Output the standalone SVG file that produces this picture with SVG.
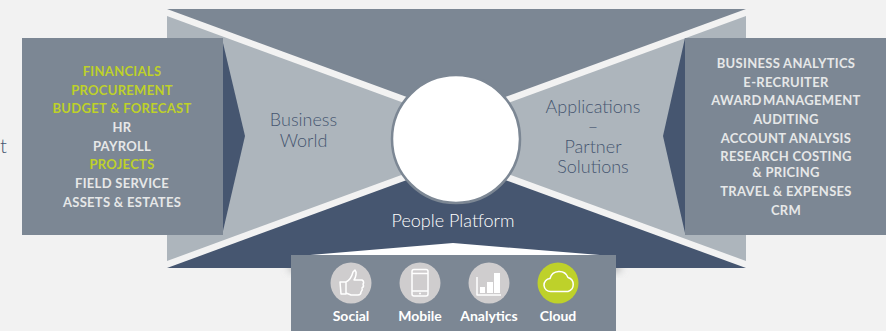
<svg xmlns="http://www.w3.org/2000/svg" width="886" height="331" viewBox="0 0 886 331">
<defs>
<filter id="bl" x="-10%" y="-100%" width="120%" height="300%"><feGaussianBlur stdDeviation="4"/></filter>
<style>
text{font-family:"Lato","Liberation Sans",sans-serif;text-anchor:middle}
.l{font-size:13px;font-weight:700;fill:#e6e7e8;letter-spacing:.3px}
.g{fill:#bed12a}
.m{font-size:18px;font-weight:300;fill:#465670}
.p{font-size:18px;font-weight:300;fill:#fff}
.i{font-size:14px;font-weight:700;fill:#fff}
.c{fill:#cfcdce}
.o{fill:none;stroke:#fff;stroke-width:1.5;stroke-linejoin:round}
</style>
</defs>
<rect width="886" height="331" fill="#f2f2f2"/>
<text x="0" y="153" class="m" style="text-anchor:start;font-size:20px">t</text>
<g id="platform">
<rect x="290" y="264" width="330" height="7" fill="#9a9c9f" filter="url(#bl)"/>
<rect x="167" y="9" width="579" height="259" fill="#f2f2f2"/>
<polygon points="167,9 746,9 456,115" fill="#7c8794"/>
<polygon points="167,268 746,268 456,162" fill="#465670"/>
<polygon points="167,16 456,122 456,155 167,261" fill="#adb5bc"/>
<polygon points="746,16 456,122 456,155 746,261" fill="#adb5bc"/>
</g>
<g id="left-panel">
<polygon points="223,43 245,136 223,231" fill="#465670"/>
<rect x="22" y="38" width="201" height="197" fill="#7c8794"/>
<text x="122" y="76" class="l g">FINANCIALS</text>
<text x="122" y="95" class="l g">PROCUREMENT</text>
<text x="122" y="113" class="l g">BUDGET &amp; FORECAST</text>
<text x="122" y="132" class="l">HR</text>
<text x="122" y="151" class="l">PAYROLL</text>
<text x="122" y="169" class="l g">PROJECTS</text>
<text x="122" y="188" class="l">FIELD SERVICE</text>
<text x="122" y="207" class="l">ASSETS &amp; ESTATES</text>
</g>
<g id="right-panel">
<polygon points="685,38 663,136 685,233" fill="#465670"/>
<rect x="685" y="38" width="201" height="197" fill="#7c8794"/>
<text x="786" y="68" class="l">BUSINESS ANALYTICS</text>
<text x="786" y="87" class="l">E-RECRUITER</text>
<text x="786" y="105" class="l" style="word-spacing:-2px">AWARD MANAGEMENT</text>
<text x="786" y="124" class="l">AUDITING</text>
<text x="786" y="143" class="l">ACCOUNT ANALYSIS</text>
<text x="786" y="161" class="l">RESEARCH COSTING</text>
<text x="786" y="177" class="l">&amp; PRICING</text>
<text x="786" y="196" class="l">TRAVEL &amp; EXPENSES</text>
<text x="786" y="215" class="l">CRM</text>
</g>
<g id="business-world">
<text x="303.500" y="126" class="m">Business</text>
<text x="303.500" y="147" class="m">World</text>
</g>
<g id="applications">
<text x="593" y="113" class="m">Applications</text>
<text x="593" y="133" class="m">–</text>
<text x="593" y="153" class="m">Partner</text>
<text x="593" y="173" class="m">Solutions</text>
</g>
<g id="hub"><circle cx="456" cy="139" r="64" fill="#fff" stroke="#7c8794" stroke-width="2.5"/></g>
<g id="people-platform"><text x="453" y="227" class="p">People Platform</text></g>
<g id="services">
<polygon points="310,255 453,243 600,255" fill="#fff"/>
<rect x="291" y="255" width="325" height="76" fill="#7c8794"/>
<g id="social">
<circle cx="351" cy="283" r="20.500" class="c"/>
<path class="o" d="M340,282h6v12h-5zM346,282c4,-2 6,-6 7,-10l2,-2c2,2 1,7 -1,10h8c2,1 2,3 1,4c1,2 1,3 -1,4c1,2 0,3 -1,4c0,2 -1,3 -3,3h-7l-5,-2"/>
<text x="351" y="321" class="i">Social</text>
</g>
<g id="mobile">
<circle cx="420" cy="283" r="20.500" class="c"/>
<rect x="412" y="269.500" width="16" height="26.500" rx="2" class="o"/>
<path class="o" d="M412,273.500h16M412,291h16"/>
<circle cx="420" cy="293.500" r="1" fill="#fff"/>
<text x="420" y="321" class="i">Mobile</text>
</g>
<g id="analytics">
<circle cx="489" cy="283" r="20.500" class="c"/>
<path class="o" d="M477,277v18h24"/>
<rect x="480" y="287" width="5" height="6" fill="#fff"/>
<rect x="487" y="282" width="6" height="11" fill="#fff"/>
<rect x="494" y="273" width="6" height="20" fill="#fff"/>
<text x="489" y="321" class="i">Analytics</text>
</g>
<g id="cloud">
<circle cx="558" cy="283" r="20.500" fill="#bed12a"/>
<path class="o" d="M551,291.500a6.500,6.500 0 0 1 -1,-13a9.500,9.500 0 0 1 18,-1a7.300,7.300 0 0 1 0,14z"/>
<text x="558" y="321" class="i">Cloud</text>
</g>
</g>
</svg>
